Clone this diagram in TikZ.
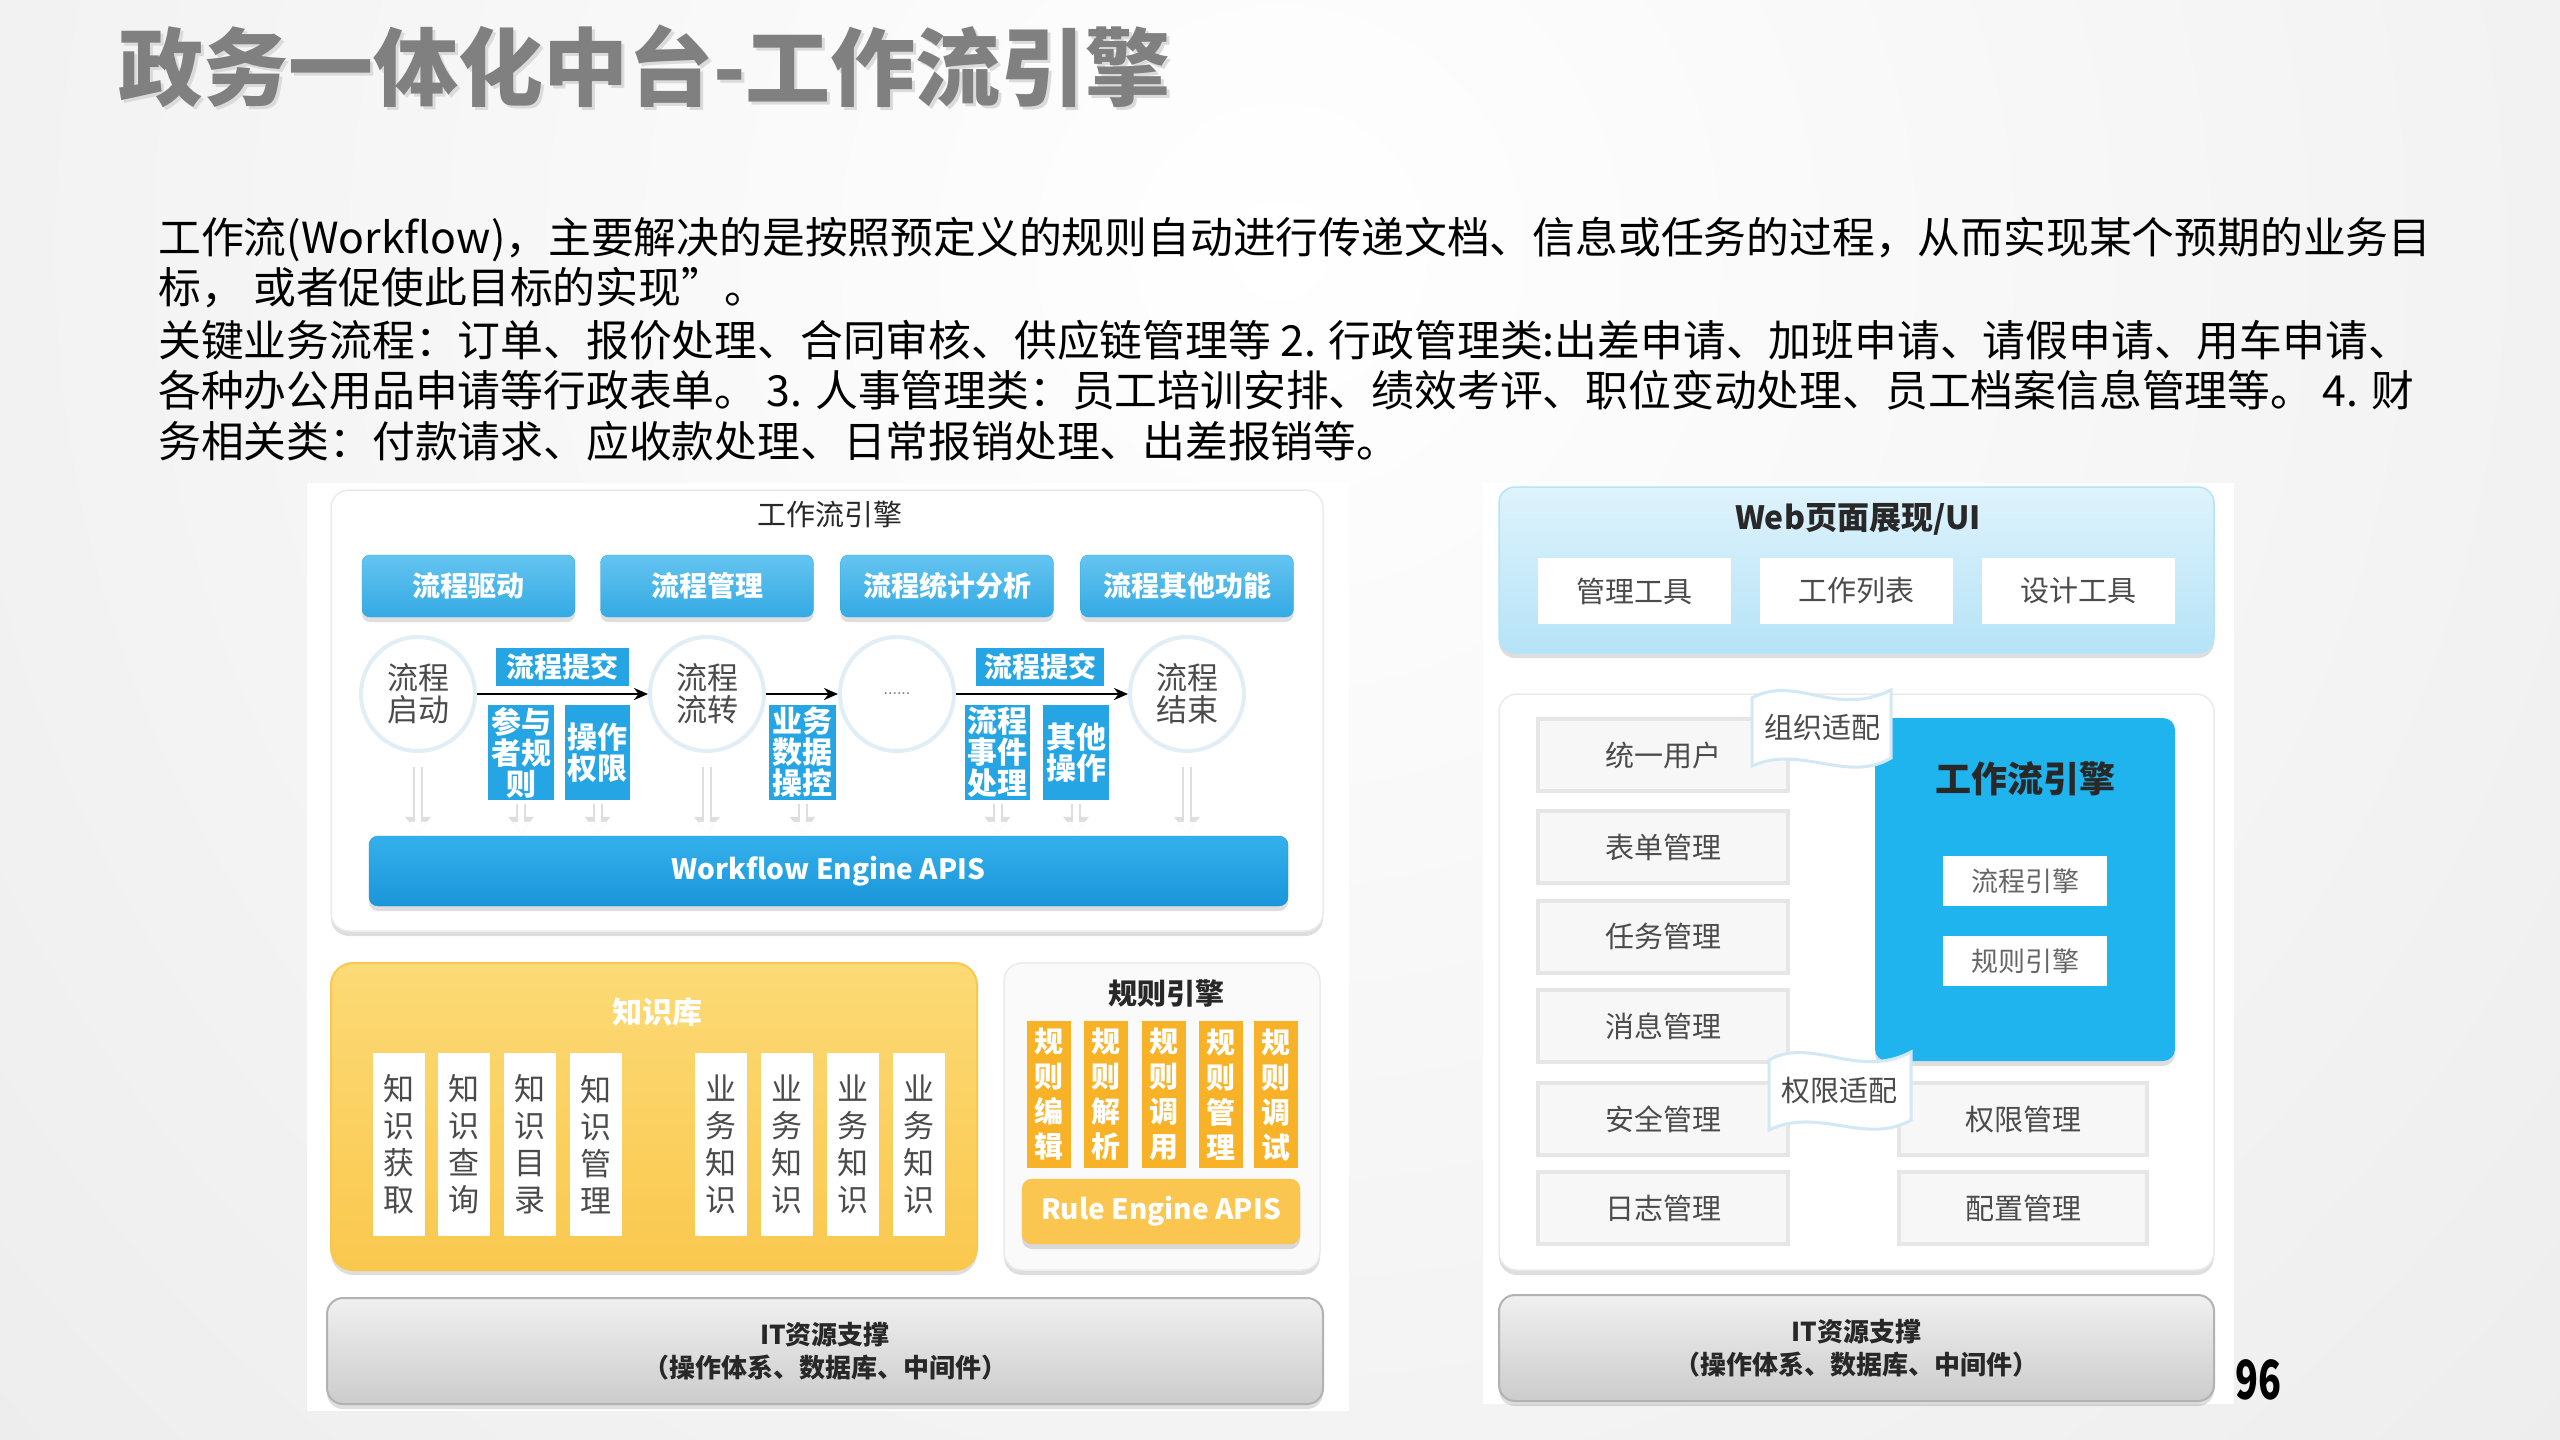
\documentclass[tikz,border=0pt]{standalone}
\usepackage{fontspec}
\usepackage{graphicx}
\setmainfont{Noto Sans CJK SC}
\usetikzlibrary{shadows,arrows.meta}
\newcommand\fs[2]{\fontsize{#1}{#2}\selectfont}
\definecolor{btnTop}{RGB}{100,196,240}
\definecolor{btnBot}{RGB}{52,170,228}
\definecolor{lblBlue}{RGB}{38,165,228}
\definecolor{apiTop}{RGB}{52,176,236}
\definecolor{apiBot}{RGB}{26,150,218}
\definecolor{kbTop}{RGB}{252,218,118}
\definecolor{kbBot}{RGB}{250,200,78}
\definecolor{orangeC}{RGB}{248,178,40}
\definecolor{ruleApi}{RGB}{250,198,80}
\definecolor{webTop}{RGB}{222,243,252}
\definecolor{webBot}{RGB}{182,227,247}
\definecolor{wfeBlue}{RGB}{32,180,238}
\definecolor{textGray}{RGB}{75,75,75}
\definecolor{darkText}{RGB}{40,40,40}
\definecolor{titleGray}{RGB}{128,128,128}
\definecolor{flagBorder}{RGB}{210,232,244}
\definecolor{circBorder}{RGB}{226,238,245}
\definecolor{gboxFill}{RGB}{247,247,247}
\definecolor{gboxDraw}{RGB}{230,230,230}
\begin{document}
\begin{tikzpicture}[x=1pt,y=-1pt,
  every node/.style={align=center,inner sep=0pt},
  softshadow/.style={drop shadow={shadow xshift=0pt,shadow yshift=-5pt,fill=black,opacity=0.13}},
  panel/.style={rounded corners=18pt,fill=white,draw=black!8,line width=1.5pt,softshadow},
  bluebtn/.style={rounded corners=8pt,top color=btnTop,bottom color=btnBot,draw=btnBot,
     minimum width=213pt,minimum height=62pt,text=white,font=\fs{28}{32}\bfseries,softshadow},
  flowcirc/.style={circle,fill=white,draw=circBorder,line width=4pt,minimum size=114pt,
     text=textGray,font=\fs{31}{32}},
  flowarr/.style={line width=2.5pt,-{Stealth[length=14pt,width=12pt]}},
  bluelbl/.style={fill=lblBlue,text=white,font=\fs{28}{30}\bfseries,minimum height=38pt},
  vbox/.style={fill=lblBlue,text=white,font=\fs{30}{31}\bfseries,minimum height=95pt},
  faintarr/.style={line width=6pt,draw=white,-{Triangle[length=11pt,width=17pt]},
     preaction={draw=black!13,line width=10pt,-{Triangle[length=16pt,width=25pt]}}},
  apibar/.style={rounded corners=9pt,top color=apiTop,bottom color=apiBot,draw=apiBot,
     minimum width=919pt,minimum height=70pt,text=white,font=\fs{28}{30}\bfseries,softshadow},
  kcol/.style={fill=white,minimum width=52pt,minimum height=183pt,font=\fs{31}{37},text=textGray},
  ocol/.style={fill=orangeC,minimum width=44pt,minimum height=147pt,font=\fs{29}{35}\bfseries,text=white},
  itbar/.style={rounded corners=16pt,top color=black!6,bottom color=black!20,draw=black!30,
     line width=2pt,minimum height=106pt,font=\fs{26}{33}\bfseries,text=darkText,softshadow},
  wbox/.style={fill=white,minimum width=193pt,minimum height=66pt,font=\fs{29}{29},text=textGray},
  gbox/.style={fill=gboxFill,draw=gboxDraw,line width=4pt,minimum width=250pt,minimum height=72pt,
     font=\fs{29}{29},text=textGray},
  ebox/.style={fill=white,minimum width=164pt,minimum height=50pt,font=\fs{27}{27},text=black!60},
  flag/.style={fill=white,draw=flagBorder,line width=3pt}
]
\useasboundingbox (0,0) rectangle (2560,1440);
% background
\fill[black!7] (0,0) rectangle (2560,1440);
\shade[inner color=white,outer color=black!8] (-720,-1750) rectangle (3280,2250);
% title
\node[anchor=west,font=\fs{85}{85}\bfseries,text=black!14] (titshadow) at (121,69) {政务一体化中台-工作流引擎};
\node[anchor=west,font=\fs{85}{85}\bfseries,text=titleGray] (title) at (118,66) {政务一体化中台-工作流引擎};
% body text
\begin{scope}[every node/.style={anchor=base west,inner sep=0pt,font=\fs{42.8}{51},text=black}]
\node (t1) at (158,253) {工作流(Workflow)，主要解决的是按照预定义的规则自动进行传递文档、信息或任务的过程，从而实现某个预期的业务目};
\node (t2) at (158,303) {标， 或者促使此目标的实现”。};
\node (t3) at (158,356) {关键业务流程：订单、报价处理、合同审核、供应链管理等 2. 行政管理类:出差申请、加班申请、请假申请、用车申请、};
\node (t4) at (158,406) {各种办公用品申请等行政表单。 3. 人事管理类：员工培训安排、绩效考评、职位变动处理、员工档案信息管理等。 4. 财};
\node (t5) at (158,457) {务相关类：付款请求、应收款处理、日常报销处理、出差报销等。};
\end{scope}
% diagram backgrounds
\fill[white] (307,483) rectangle (1349,1411);
\fill[white] (1483,483) rectangle (2234,1404);

% ===== left top: workflow engine =====
\node[panel,minimum width=992pt,minimum height=441pt] (toppanel) at (827,710.5) {};
\node[font=\fs{29}{29},text=darkText] (toptitle) at (830,514) {工作流引擎};
\node[bluebtn] (b1) at (468.5,586) {流程驱动};
\node[bluebtn] (b2) at (707,586) {流程管理};
\node[bluebtn] (b3) at (947,586) {流程统计分析};
\node[bluebtn] (b4) at (1187,586) {流程其他功能};
\node[apibar] (api) at (828.5,871) {Workflow Engine APIS};
\node[flowcirc] (c1) at (418,694) {流程\\启动};
\node[flowcirc] (c2) at (707,694) {流程\\流转};
\node[flowcirc] (c3) at (897,694) {\fs{16}{16}\color{black!45}......};
\node[flowcirc] (c4) at (1187,694) {流程\\结束};
\draw[flowarr] (c1) -- (c2);
\draw[flowarr] (c2) -- (c3);
\draw[flowarr] (c3) -- (c4);
\node[bluelbl,minimum width=133pt] (s1) at (562.5,667) {流程提交};
\node[bluelbl,minimum width=128pt] (s2) at (1040,667) {流程提交};
\node[vbox,minimum width=66pt] (v1) at (521,752.5) {参与\\者规\\则};
\node[vbox,minimum width=65pt] (v2) at (597.5,752.5) {操作\\权限};
\node[vbox,minimum width=67pt] (v3) at (802.5,752.5) {业务\\数据\\操控};
\node[vbox,minimum width=65pt] (v4) at (997.5,752.5) {流程\\事件\\处理};
\node[vbox,minimum width=66pt] (v5) at (1076,752.5) {其他\\操作};
\foreach \n in {c1,c2,c4}
  \draw[faintarr,shorten >=3pt] ([yshift=-14pt]\n.south) -- (\n.south |- api.north);
\foreach \n in {v1,v2,v3,v4,v5}
  \draw[faintarr,shorten >=3pt] ([yshift=-4pt]\n.south) -- (\n.south |- api.north);

% ===== left bottom: knowledge base & rule engine =====
\node[rounded corners=22pt,top color=kbTop,bottom color=kbBot,draw=kbBot,line width=2pt,
      minimum width=646pt,minimum height=307pt,softshadow] (kb) at (654,1116.5) {};
\node[font=\fs{30}{30}\bfseries,text=white] (kbt) at (657,1012) {知识库};
\node[kcol] (k1) at (398.5,1144.5) {知\\识\\获\\取};
\node[kcol] (k2) at (464,1144.5) {知\\识\\查\\询};
\node[kcol] (k3) at (530,1144.5) {知\\识\\目\\录};
\node[kcol] (k4) at (595.5,1144.5) {知\\识\\管\\理};
\node[kcol] (k5) at (721,1144.5) {业\\务\\知\\识};
\node[kcol] (k6) at (787,1144.5) {业\\务\\知\\识};
\node[kcol] (k7) at (852.5,1144.5) {业\\务\\知\\识};
\node[kcol] (k8) at (918.5,1144.5) {业\\务\\知\\识};

\node[panel,fill=black!2,minimum width=316pt,minimum height=307pt] (rp) at (1162,1116.5) {};
\node[font=\fs{29}{29}\bfseries,text=darkText] (rpt) at (1166,993) {规则引擎};
\node[ocol] (r1) at (1049,1094.5) {规\\则\\编\\辑};
\node[ocol] (r2) at (1106,1094.5) {规\\则\\解\\析};
\node[ocol] (r3) at (1163.5,1094.5) {规\\则\\调\\用};
\node[ocol] (r4) at (1221,1094.5) {规\\则\\管\\理};
\node[ocol] (r5) at (1276,1094.5) {规\\则\\调\\试};
\node[rounded corners=10pt,fill=ruleApi,draw=orangeC!80,minimum width=278pt,minimum height=65pt,
      font=\fs{28}{30}\bfseries,text=white,softshadow] (rapi) at (1161,1211.5) {Rule Engine APIS};

\node[itbar,minimum width=996pt] (it1) at (825,1351) {IT资源支撑\\（操作体系、数据库、中间件）};

% ===== right: web UI =====
\node[rounded corners=16pt,top color=webTop,bottom color=webBot,draw=webBot,line width=1.5pt,
      minimum width=715pt,minimum height=166pt,softshadow] (web) at (1856.5,570) {};
\node[font=\fs{32}{32}\bfseries,text=darkText] (webt) at (1858,519) {Web页面展现/UI};
\node[wbox] (w1) at (1634.5,591) {管理工具};
\node[wbox] (w2) at (1856.5,591) {工作列表};
\node[wbox] (w3) at (2078.5,591) {设计工具};

\node[panel,minimum width=715pt,minimum height=576pt] (lp) at (1856.5,982) {};
\node[gbox] (g1) at (1663,755) {统一用户};
\node[gbox] (g2) at (1663,847) {表单管理};
\node[gbox] (g3) at (1663,936.5) {任务管理};
\node[gbox] (g4) at (1663,1026) {消息管理};
\node[gbox] (g5) at (1663,1119) {安全管理};
\node[gbox] (g6) at (1663,1208) {日志管理};
\node[gbox,minimum width=248pt] (g7) at (2023,1119) {权限管理};
\node[gbox,minimum width=248pt] (g8) at (2023,1208) {配置管理};

\node[fill=wfeBlue,rounded corners=12pt,minimum width=300pt,minimum height=343pt,softshadow] (wfe) at (2025,889.5) {};
\node[font=\fs{36}{36}\bfseries,text=darkText] (wfet) at (2025,779) {工作流引擎};
\node[ebox] (e1) at (2025,881) {流程引擎};
\node[ebox] (e2) at (2025,961) {规则引擎};

% adapter flags
\path[flag] (1752,698) .. controls (1795,674) and (1835,718) .. (1891,690)
   -- (1891,758) .. controls (1848,784) and (1800,744) .. (1752,766) -- cycle;
\node[font=\fs{29}{29},text=textGray] (f1) at (1822,727) {组织适配};
\path[flag] (1769,1060) .. controls (1812,1036) and (1858,1080) .. (1911,1052)
   -- (1911,1120) .. controls (1866,1146) and (1818,1106) .. (1769,1130) -- cycle;
\node[font=\fs{29}{29},text=textGray] (f2) at (1839,1091) {权限适配};

\node[itbar,minimum width=715pt] (it2) at (1856.5,1348) {IT资源支撑\\（操作体系、数据库、中间件）};

% page number
\node[font=\fs{54}{54}\bfseries,text=black] (pnum) at (2258,1380) {\scalebox{0.7}[1]{96}};
\end{tikzpicture}
\end{document}
